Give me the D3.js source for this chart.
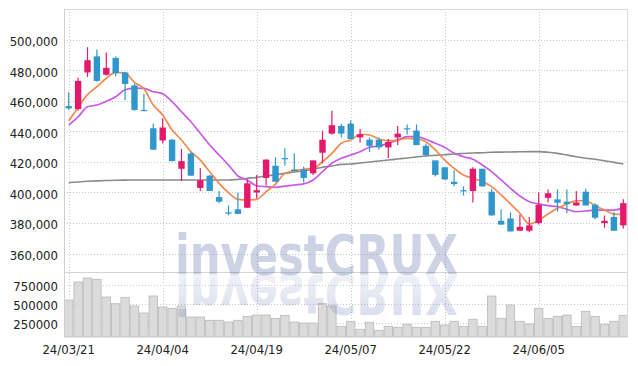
<!DOCTYPE html>
<html><head><meta charset="utf-8">
<script src="https://cdn.jsdelivr.net/npm/d3@7"></script>
<style>body{margin:0;background:#fff}svg{display:block}</style>
</head><body><svg id="c" width="638" height="366"></svg>
<script>
const dates=["24/03/21","24/03/22","24/03/25","24/03/26","24/03/27","24/03/28","24/03/29","24/04/01","24/04/02","24/04/03",
"24/04/04","24/04/05","24/04/08","24/04/09","24/04/11","24/04/12","24/04/15","24/04/16","24/04/17","24/04/18",
"24/04/19","24/04/22","24/04/23","24/04/24","24/04/25","24/04/26","24/04/29","24/04/30","24/05/02","24/05/03",
"24/05/07","24/05/08","24/05/09","24/05/10","24/05/13","24/05/14","24/05/16","24/05/17","24/05/20","24/05/21",
"24/05/22","24/05/23","24/05/24","24/05/27","24/05/28","24/05/29","24/05/30","24/05/31","24/06/03","24/06/04",
"24/06/05","24/06/07","24/06/10","24/06/11","24/06/12","24/06/13","24/06/14","24/06/17","24/06/18","24/06/19"];
const openP=[456500,454600,478500,489000,477000,488000,478500,470000,454000,442000,434000,434500,415500,425500,403000,411000,397000,387000,389000,390000,400000,409500,417500,422500,415000,415000,412500,426000,438500,443500,445000,436000,434500,434500,429500,436000,442000,440500,430500,421000,416500,407000,401500,401000,415500,400500,381500,383000,375000,375000,380000,396500,395500,394000,391500,400500,392000,380000,384000,378500];
const closeP=[455000,473000,486500,473000,481500,478000,471000,454000,453300,428000,442500,420500,420500,411000,408000,401000,394000,386500,386000,406000,401500,421500,407000,422000,414000,409500,421000,434500,444000,438500,435000,438000,430500,429500,433000,438500,441500,431000,424500,411500,408500,405500,401000,415500,404000,385000,379000,374500,377500,378500,392000,399500,393300,392500,393500,391500,383500,381500,375000,393000];
const highP=[465500,475000,495000,493500,491500,489000,479000,471000,464500,445000,448500,435000,428500,426500,416000,411500,401000,391500,400000,408500,411500,421700,423000,429000,425500,417000,421000,440500,453500,445000,447000,441500,436000,436000,435000,443500,444500,444500,432000,421000,416500,414500,404000,416500,415500,402500,389000,387000,385500,384000,400000,402000,402000,402000,401000,402500,393000,385000,387000,395500];
const lowP=[454000,453500,475500,472500,476500,476000,460500,453500,453100,428000,432000,420500,407500,411000,401000,401000,393000,385000,386000,390000,396000,404500,407000,417500,414000,406500,411500,419000,438000,436000,435000,432500,426500,428000,422500,431000,438000,431000,423500,410500,408500,404000,398000,393500,403800,385000,379000,374500,375000,374000,379000,393500,387500,386500,391500,391500,382500,377000,375000,376500];
const ma5=[446800,455600,464000,469200,474700,478600,478100,471900,467900,457200,450700,440900,434300,426700,421200,413600,406000,399900,395500,395100,395500,400500,405500,412500,414200,415200,415800,420100,425600,432200,434300,438100,437600,435000,433900,434300,435400,435000,433200,427800,421200,415800,411400,409300,407100,403800,398400,392500,386400,379400,382000,385900,389700,392500,394600,394600,391400,388500,385900,385700];
const ma20=[444100,449400,456100,457200,459600,462600,467200,468300,468100,465900,464600,459400,452800,446300,438700,431100,424500,418000,410800,408200,404400,403800,403400,404200,404900,405600,408200,413600,419100,422400,424500,426700,429600,430400,432200,434300,436500,436500,434800,432200,429600,425600,423400,421700,418000,413600,408200,402700,397700,394000,392500,391400,390700,389000,387400,387900,388500,388500,388500,390100];
const ma60=[406400,406900,407300,407600,407800,408000,408100,408200,408200,408200,408200,408200,408200,408200,408200,408200,408200,408200,408600,409300,409900,410800,411600,412500,413400,414200,415200,416500,417300,418400,418600,419300,419900,420600,421200,421900,422600,423200,423900,424300,424700,425200,425500,425800,426000,426300,426400,426500,426600,426700,426700,426300,425600,424500,423400,422400,421700,420800,419700,418600];
const volume=[552600,789500,842100,825000,592100,504000,588000,473700,381600,605300,460500,443000,473700,329000,329000,285500,285500,263200,285500,338200,355300,355300,311800,351300,263200,250000,250000,504000,473700,206600,272400,167100,259200,153900,206600,193400,232900,193400,193400,272400,223700,272400,206600,298700,206600,605300,311800,486800,272400,236800,443400,311800,338200,355300,206600,404000,338200,232900,272400,351300];
const priceTicks=[360000,380000,400000,420000,440000,460000,480000,500000];
const volTicks=[250000,500000,750000];
const dateTicks=["24/03/21","24/04/04","24/04/19","24/05/07","24/05/22","24/06/05"];

const L=64,R=628,T=9,MB=272,VB=337;
const svg=d3.select("#c");
svg.append("rect").attr("width",638).attr("height",366).attr("fill","#fff");
const x=d3.scaleBand().domain(dates).range([L,R]).padding(0);
const cx=d=>x(d)+x.bandwidth()/2;
const y=d3.scaleLinear().domain([348000,520000]).range([MB,T]);
const yv=d3.scaleLinear().domain([65800,921000]).range([VB,MB]);
const font="'DejaVu Sans Condensed','DejaVu Sans',sans-serif";
const gridCol="#c6c8d6";

// grid
const gGrid=svg.append("g");
gGrid.selectAll("line.h").data(priceTicks).join("line")
 .attr("x1",L).attr("x2",R).attr("y1",d=>Math.round(y(d))+0.5).attr("y2",d=>Math.round(y(d))+0.5)
 .attr("stroke",gridCol).attr("stroke-dasharray","1,2");
gGrid.selectAll("line.vh").data(volTicks).join("line").attr("class","vh")
 .attr("x1",L).attr("x2",R).attr("y1",d=>Math.round(yv(d))+0.5).attr("y2",d=>Math.round(yv(d))+0.5)
 .attr("stroke",gridCol).attr("stroke-dasharray","1,2");
gGrid.selectAll("line.v").data(dateTicks).join("line").attr("class","v")
 .attr("x1",d=>Math.round(cx(d))+0.5).attr("x2",d=>Math.round(cx(d))+0.5).attr("y1",T).attr("y2",VB)
 .attr("stroke",gridCol).attr("stroke-dasharray","1,2");

// volume bars
svg.append("g").selectAll("rect").data(dates).join("rect")
 .attr("x",d=>x(d)+0.5).attr("width",x.bandwidth()-1)
 .attr("y",(d,i)=>yv(volume[i])).attr("height",(d,i)=>VB-yv(volume[i]))
 .attr("fill","#d8d8d8").attr("fill-opacity",0.92).attr("stroke","#b9b9b9").attr("stroke-width",0.8);

// borders
svg.append("line").attr("x1",L).attr("x2",R).attr("y1",T+0.5).attr("y2",T+0.5).attr("stroke","#d9d9d9");
svg.append("line").attr("x1",L).attr("x2",R).attr("y1",MB+0.5).attr("y2",MB+0.5).attr("stroke","#d4d4d4");
svg.append("line").attr("x1",L+0.5).attr("x2",L+0.5).attr("y1",T).attr("y2",VB).attr("stroke","#cfcfcf");
svg.append("line").attr("x1",R-0.5).attr("x2",R-0.5).attr("y1",T).attr("y2",VB).attr("stroke","#dcdcdc");

// moving averages
const line=arr=>d3.line().x((d,i)=>cx(dates[i])).y(d=>y(d)).curve(d3.curveMonotoneX)(arr);
svg.append("path").attr("d",line(ma60)).attr("fill","none").attr("stroke","#8a8a8a").attr("stroke-width",1.6);
svg.append("path").attr("d",line(ma20)).attr("fill","none").attr("stroke","#c85ae8").attr("stroke-width",1.7);
svg.append("path").attr("d",line(ma5)).attr("fill","none").attr("stroke","#f08a4e").attr("stroke-width",1.7);

// candles
const up="#e5196b", dn="#2f97cb";
const bw=6.4;
const gC=svg.append("g").selectAll("g").data(dates).join("g");
gC.append("line").attr("x1",d=>cx(d)).attr("x2",d=>cx(d))
 .attr("y1",(d,i)=>y(highP[i])).attr("y2",(d,i)=>y(lowP[i]))
 .attr("stroke",(d,i)=>closeP[i]>=openP[i]?up:dn).attr("stroke-width",1.2);
gC.append("rect").attr("x",d=>cx(d)-bw/2).attr("width",bw)
 .attr("y",(d,i)=>y(Math.max(openP[i],closeP[i])))
 .attr("height",(d,i)=>Math.max(1.2,Math.abs(y(openP[i])-y(closeP[i]))))
 .attr("fill",(d,i)=>closeP[i]>=openP[i]?up:dn);

// watermark
const defs=svg.append("defs");
const gr=defs.append("linearGradient").attr("id","rf").attr("x1",0).attr("x2",0).attr("y1",0).attr("y2",1);
gr.append("stop").attr("offset","0").attr("stop-color","#5a69aa").attr("stop-opacity",0.26);
gr.append("stop").attr("offset","1").attr("stop-color","#5a69aa").attr("stop-opacity",0.05);
const wmFont="'DejaVu Sans',sans-serif";
svg.append("text").text("investCRUX").attr("x",175).attr("y",274)
 .attr("font-family",wmFont).attr("font-weight","bold").attr("font-size",56)
 .attr("textLength",283).attr("lengthAdjust","spacingAndGlyphs")
 .attr("fill","#5a69aa").attr("fill-opacity",0.3);
svg.append("g").attr("transform","translate(0,549) scale(1,-1)")
 .append("text").text("investCRUX").attr("x",175).attr("y",274)
 .attr("font-family",wmFont).attr("font-weight","bold").attr("font-size",56)
 .attr("textLength",283).attr("lengthAdjust","spacingAndGlyphs")
 .attr("fill","url(#rf)");

// axes labels
const ax=svg.append("g").attr("transform",`translate(${L},0)`)
 .call(d3.axisLeft(y).tickValues(priceTicks).tickFormat(d3.format(",")).tickSize(0).tickPadding(6));
const axv=svg.append("g").attr("transform",`translate(${L},0)`)
 .call(d3.axisLeft(yv).tickValues(volTicks).tickFormat(d3.format("d")).tickSize(0).tickPadding(6));
const axx=svg.append("g").attr("transform",`translate(0,${VB})`)
 .call(d3.axisBottom(x).tickValues(dateTicks).tickSize(0).tickPadding(8));
[ax,axv,axx].forEach(g=>{g.select(".domain").remove();
 g.selectAll("text").attr("font-family",font).attr("font-size",13).attr("fill","#222");});
ax.selectAll("text").attr("dy","0.45em");
axv.selectAll("text").attr("dy","0.42em");
</script></body></html>
